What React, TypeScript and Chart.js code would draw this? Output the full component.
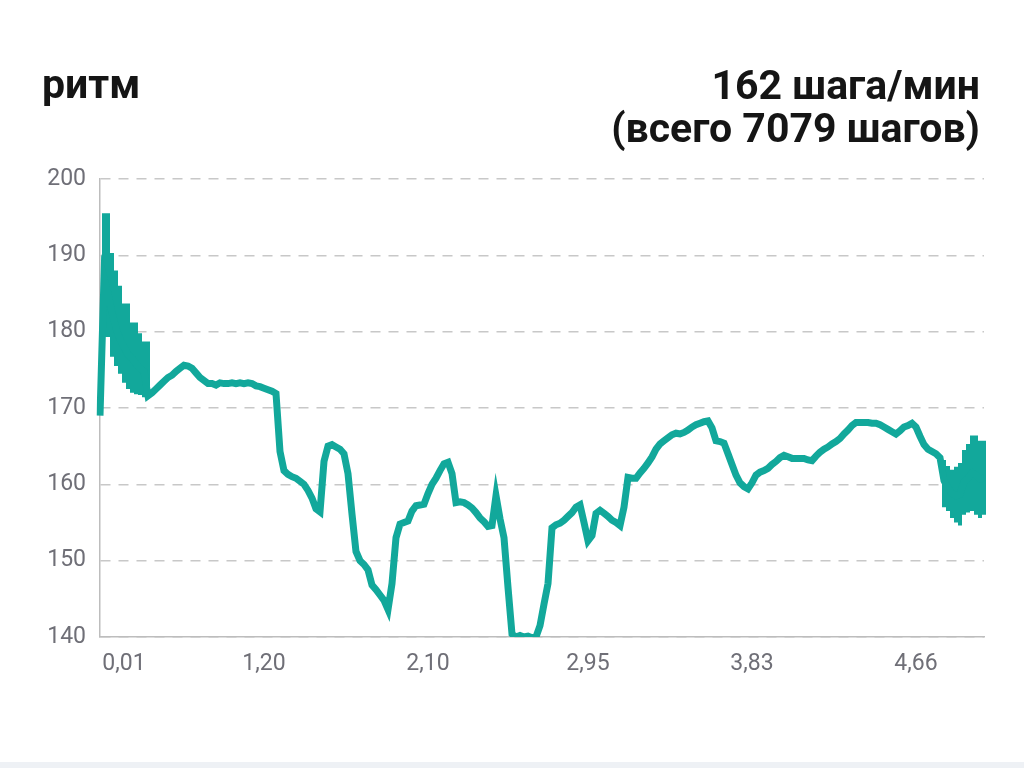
import { useEffect, useRef } from "react";
import { Chart, registerables } from "chart.js";

Chart.register(...registerables);

// cadence samples (steps/min), one every ~4px of the track
// (inside the two noisy stretches this is the middle of the band)
const cadence = [
  169, 187, 185, 182.5, 180.5, 179, 178, 177, 176.5, 175.8,
  175.2, 174.8, 171.6, 172, 172.5, 173, 173.5, 174, 174.3, 174.8,
  175.2, 175.6, 175.5, 175.2, 174.6, 174, 173.6, 173.2, 173.2, 173,
  173.3, 173.2, 173.2, 173.3, 173.2, 173.3, 173.2, 173.3, 173.2, 172.9,
  172.8, 172.6, 172.4, 172.2, 171.9, 164.3, 161.8, 161.3, 161, 160.8,
  160.4, 160, 159.2, 158.2, 156.8, 156.4, 163, 165, 165.2, 164.9,
  164.6, 164, 161.4, 156.1, 151.2, 150, 149.5, 148.8, 146.8, 146.2,
  145.5, 144.8, 143.6, 147, 153, 154.8, 155, 155.2, 156.5, 157.2,
  157.3, 157.4, 158.8, 160, 160.8, 161.8, 162.7, 162.9, 161.4, 157.6,
  157.7, 157.6, 157.3, 156.9, 156.3, 155.6, 155.1, 154.5, 154.6, 158.5,
  155.5, 153, 146.5, 140.4, 140, 140.2, 140, 140.1, 139.9, 140,
  141.5, 144.3, 147, 154.3, 154.7, 154.9, 155.3, 155.8, 156.3, 157,
  157.3, 155, 152.6, 153.3, 156.2, 156.6, 156.2, 155.8, 155.3, 155,
  154.6, 157, 160.9, 160.8, 160.8, 161.5, 162.1, 162.8, 163.6, 164.6,
  165.3, 165.7, 166.1, 166.5, 166.7, 166.6, 166.8, 167.1, 167.5, 167.8,
  168, 168.2, 168.3, 167.4, 165.7, 165.6, 165.4, 164, 162.6, 161.2,
  160.2, 159.7, 159.4, 160.2, 161.2, 161.6, 161.8, 162.1, 162.6, 163,
  163.5, 163.8, 163.6, 163.4, 163.4, 163.4, 163.4, 163.2, 163.1, 163.7,
  164.2, 164.6, 164.9, 165.3, 165.6, 166, 166.6, 167.1, 167.7, 168.1,
  168.1, 168.1, 168.1, 168, 168, 167.8, 167.5, 167.2, 166.9, 166.6,
  167, 167.5, 167.7, 168, 167.5, 166.3, 165.2, 164.6, 164.3, 164,
  163.5, 160.5, 159.5, 158.8, 158.5, 158.7, 160.3, 160.8, 161.5, 161.2,
  160.7, 160.8,
];

// the two noisy stretches (start and finish) read as a solid band:
// upper / lower edge per sample, starting at the given sample index
const startBandFrom = 1;
const startBandHigh = [195.5, 195.5, 190.3, 188, 186, 183.7, 183.7, 181.2, 181.2, 179.8, 178.7, 178.7];
const startBandLow = [179.3, 179.3, 176.7, 175.5, 174.5, 173.3, 172.5, 172, 171.8, 171.7, 171.4, 171.4];
const endBandFrom = 211;
const endBandHigh = [163.2, 162.4, 161.9, 162.3, 162.8, 164.5, 165.3, 166.4, 166.4, 165.7, 165.7];
const endBandLow = [157, 156.5, 155.6, 155, 154.6, 156, 156.3, 156.5, 156, 155.6, 156];

// distance labels (km) and the sample they sit under
const tickIdx = [6, 41, 82, 122, 163, 204];
const tickLabels = ["0,01", "1,20", "2,10", "2,95", "3,83", "4,66"];

const yMin = 140;
const yMax = 200;
const yStep = 10;

const titleLeft = "ритм";
const titleRight = ["162 шага/мин", "(всего 7079 шагов)"];

const FONT = "Roboto, 'Noto Sans', sans-serif";
const TEAL = "#12a89b";

const bands = [
  { from: startBandFrom, high: startBandHigh, low: startBandLow },
  { from: endBandFrom, high: endBandHigh, low: endBandLow },
];

// paints the noisy stretches as stepped solid areas, under the line
const bandPlugin = {
  id: "cadenceBands",
  beforeDatasetsDraw(chart: any) {
    const { ctx, scales, chartArea } = chart;
    const x = scales.x;
    const y = scales.y;
    const half = (x.getPixelForValue(1) - x.getPixelForValue(0)) / 2;
    ctx.save();
    ctx.beginPath();
    ctx.rect(chartArea.left, chartArea.top - 4, chartArea.right - chartArea.left + 2, chartArea.bottom - chartArea.top + 8);
    ctx.clip();
    ctx.fillStyle = TEAL;
    bands.forEach((b) => {
      ctx.beginPath();
      b.high.forEach((v, k) => {
        const px = x.getPixelForValue(b.from + k);
        const py = y.getPixelForValue(v);
        if (k === 0) ctx.moveTo(px - half, py);
        else ctx.lineTo(px - half, py);
        ctx.lineTo(px + half, py);
      });
      for (let k = b.low.length - 1; k >= 0; k--) {
        const px = x.getPixelForValue(b.from + k);
        const py = y.getPixelForValue(b.low[k]);
        ctx.lineTo(px + half, py);
        ctx.lineTo(px - half, py);
      }
      ctx.closePath();
      ctx.fill();
    });
    ctx.restore();
  },
};

export default function App() {
  const canvasRef = useRef<HTMLCanvasElement>(null);

  useEffect(() => {
    if (!canvasRef.current) return;
    const chart = new Chart(canvasRef.current, {
      type: "line",
      data: {
        labels: cadence.map((_, i) => String(i)),
        datasets: [
          {
            data: cadence,
            borderColor: TEAL,
            borderWidth: 7,
            pointRadius: 0,
            tension: 0,
            fill: false,
          },
        ],
      },
      plugins: [bandPlugin],
      options: {
        animation: false,
        responsive: true,
        maintainAspectRatio: false,
        layout: { padding: { top: 179, right: 40, bottom: 81, left: 0 } },
        plugins: {
          legend: { display: false },
          tooltip: { enabled: false },
        },
        scales: {
          x: {
            type: "category",
            offset: false,
            afterFit: (s: any) => {
              s.height = 50;
            },
            grid: { display: false, drawTicks: false },
            border: { display: true, color: "#bdbdbd", width: 1.5 },
            ticks: {
              autoSkip: false,
              maxRotation: 0,
              padding: 13,
              color: "#6f6f77",
              font: { family: FONT, size: 23 },
              callback: (_v: any, i: number) => {
                const k = tickIdx.indexOf(i);
                return k >= 0 ? tickLabels[k] : null;
              },
            },
          },
          y: {
            min: yMin,
            max: yMax,
            afterFit: (s: any) => {
              s.width = 100;
            },
            grid: { color: "#c8c8c8", lineWidth: 1.5, drawTicks: false },
            border: { display: true, color: "#bdbdbd", width: 1.5, dash: [10, 8] },
            ticks: {
              stepSize: yStep,
              padding: 14,
              color: "#6f6f77",
              font: { family: FONT, size: 23 },
            },
          },
        },
      },
    });
    return () => chart.destroy();
  }, []);

  return (
    <div
      style={{
        position: "fixed",
        left: 0,
        top: 0,
        width: 1024,
        height: 768,
        background: "#ffffff",
        overflow: "hidden",
        fontFamily: FONT,
      }}
    >
      <div style={{ position: "absolute", left: 0, top: 0, width: 1024, height: 768 }}>
        <canvas ref={canvasRef} />
      </div>
      <div
        style={{
          position: "absolute",
          left: 42,
          top: 63,
          fontSize: 41,
          lineHeight: "43px",
          fontWeight: 700,
          color: "#151515",
        }}
      >
        {titleLeft}
      </div>
      <div
        style={{
          position: "absolute",
          right: 44,
          top: 64,
          fontSize: 41,
          lineHeight: "43px",
          fontWeight: 700,
          color: "#151515",
          textAlign: "right",
        }}
      >
        {titleRight.map((t) => (
          <div key={t}>{t}</div>
        ))}
      </div>
      <div
        style={{
          position: "absolute",
          left: 0,
          top: 762,
          width: 1024,
          height: 6,
          background: "#eef1f5",
        }}
      />
    </div>
  );
}
